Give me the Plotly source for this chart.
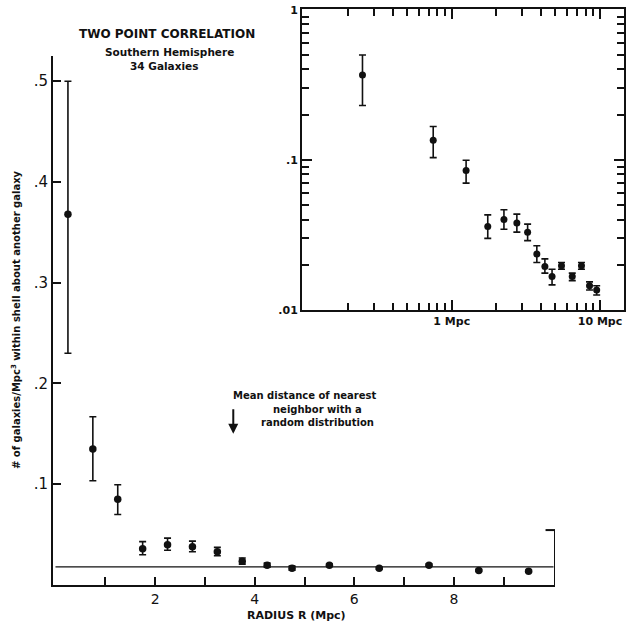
import numpy as np
import plotly.graph_objects as go

# ---- data ----
radius = [0.25, 0.75, 1.25, 1.75, 2.25, 2.75, 3.25, 3.75, 4.25, 4.75, 5.5, 6.5, 7.5, 8.5, 9.5]
density = [0.368, 0.135, 0.085, 0.036, 0.040, 0.038, 0.033, 0.0236, 0.0195, 0.0167,
           0.0197, 0.0167, 0.0197, 0.0145, 0.0136]
err_high = [0.500, 0.167, 0.0995, 0.043, 0.0465, 0.0435, 0.0373, 0.0268, 0.0219, 0.0187,
            0.0207, 0.0176, 0.0207, 0.0154, 0.0145]
err_low = [0.230, 0.1035, 0.070, 0.030, 0.0345, 0.033, 0.029, 0.0207, 0.0176, 0.0147,
           0.0187, 0.0157, 0.0187, 0.0136, 0.0126]
random_level = 0.018          # horizontal line: random distribution level
mean_nn_distance = 3.57       # arrow position (Mpc)

main_x_ticks = [2, 4, 6, 8]
main_x_minor = [1, 3, 5, 7, 9]
main_y_ticks = [0.1, 0.2, 0.3, 0.4, 0.5]
main_y_text = [".1", ".2", ".3", ".4", ".5"]

inset_y_ticks = [0.01, 0.1, 1]
inset_y_text = ["<b>.01</b>", "<b>.1</b>", "<b>1</b>"]
inset_x_ticks = [1, 10]
inset_x_text = ["<b>1 Mpc</b>", "<b>10 Mpc</b>"]

y = np.array(density)
up = np.array(err_high) - y
dn = y - np.array(err_low)

FONT = "DejaVu Sans"
BLACK = "#111111"

fig = go.Figure()

# main panel
fig.add_trace(go.Scatter(
    x=[0, 10], y=[random_level, random_level], mode="lines",
    line=dict(color=BLACK, width=1.3), xaxis="x", yaxis="y", showlegend=False))
fig.add_trace(go.Scatter(
    x=radius, y=density, mode="markers",
    marker=dict(color=BLACK, size=7.5),
    error_y=dict(type="data", symmetric=False, array=up, arrayminus=dn,
                 color=BLACK, thickness=1.6, width=3.5),
    xaxis="x", yaxis="y", showlegend=False))

# inset panel (log-log)
fig.add_trace(go.Scatter(
    x=radius, y=density, mode="markers",
    marker=dict(color=BLACK, size=7),
    error_y=dict(type="data", symmetric=False, array=up, arrayminus=dn,
                 color=BLACK, thickness=1.6, width=3.5),
    xaxis="x2", yaxis="y2", showlegend=False))

W, H = 626, 625
def px(xp):
    return xp / W
def py(yp):
    return (H - yp) / H

inset_x_minor = [v * d for d in (0.1, 1) for v in range(2, 10)]
inset_y_minor = [v * d for d in (0.01, 0.1) for v in range(2, 10)]

fig.update_layout(
    width=W, height=H, margin=dict(l=0, r=0, t=0, b=0, pad=0, autoexpand=False),
    paper_bgcolor="white", plot_bgcolor="white",
    font=dict(family=FONT, color=BLACK),
    xaxis=dict(domain=[px(53), px(555)], range=[-0.05, 10.03], automargin=False,
               showline=True, linecolor=BLACK, linewidth=2, showgrid=False, zeroline=False,
               tickmode="array", tickvals=main_x_ticks, ticktext=[str(t) for t in main_x_ticks],
               ticks="inside", ticklen=8, tickwidth=1.8, tickcolor=BLACK,
               minor=dict(tickmode="array", tickvals=main_x_minor, ticks="inside",
                          ticklen=8, tickwidth=1.8, tickcolor=BLACK),
               tickfont=dict(size=14, family=FONT), anchor="y"),
    yaxis=dict(domain=[py(585), py(56)], range=[0, 0.525], automargin=False,
               showline=True, linecolor=BLACK, linewidth=2, showgrid=False, zeroline=False,
               tickmode="array", tickvals=main_y_ticks, ticktext=main_y_text,
               ticks="inside", ticklen=8, tickwidth=1.8, tickcolor=BLACK,
               tickfont=dict(size=15, family=FONT), anchor="x"),
    xaxis2=dict(domain=[px(302), px(624)], range=[-1.01, 1.162], type="log", automargin=False,
                showline=True, mirror="allticks", linecolor=BLACK, linewidth=2,
                showgrid=False, zeroline=False,
                tickmode="array", tickvals=inset_x_ticks, ticktext=inset_x_text,
                ticks="inside", ticklen=10, tickwidth=1.8, tickcolor=BLACK,
                minor=dict(tickmode="array", tickvals=inset_x_minor, ticks="inside",
                           ticklen=7, tickwidth=1.6, tickcolor=BLACK),
                tickfont=dict(size=11, family=FONT), anchor="y2"),
    yaxis2=dict(domain=[py(310), py(9)], range=[-2, 0.005], type="log", automargin=False,
                showline=True, mirror="allticks", linecolor=BLACK, linewidth=2,
                showgrid=False, zeroline=False,
                tickmode="array", tickvals=inset_y_ticks, ticktext=inset_y_text,
                ticks="inside", ticklen=10, tickwidth=1.8, tickcolor=BLACK,
                minor=dict(tickmode="array", tickvals=inset_y_minor, ticks="inside",
                           ticklen=7, tickwidth=1.6, tickcolor=BLACK),
                tickfont=dict(size=11, family=FONT), anchor="x2"),
)

# short right-hand bracket of the main frame
fig.add_shape(type="line", xref="x", yref="y", x0=10.03, x1=10.03, y0=0, y1=0.0545,
              line=dict(color=BLACK, width=2))
fig.add_shape(type="line", xref="x", yref="y", x0=9.84, x1=10.03, y0=0.0545, y1=0.0545,
              line=dict(color=BLACK, width=2))

# arrow for mean nearest-neighbour distance
fig.add_annotation(x=mean_nn_distance, y=0.150, ax=mean_nn_distance, ay=0.176,
                   xref="x", yref="y", axref="x", ayref="y", text="",
                   showarrow=True, arrowhead=2, arrowsize=1, arrowwidth=2, arrowcolor=BLACK)

ann_font = dict(family=FONT, size=10, color=BLACK)
fig.add_annotation(x=3.53, y=0.1885, xref="x", yref="y", xanchor="left", yanchor="middle",
                   text="<b>Mean distance of nearest</b>", showarrow=False, font=ann_font)
fig.add_annotation(x=5.27, y=0.1746, xref="x", yref="y", xanchor="center", yanchor="middle",
                   text="<b>neighbor with a</b>", showarrow=False, font=ann_font)
fig.add_annotation(x=5.27, y=0.161, xref="x", yref="y", xanchor="center", yanchor="middle",
                   text="<b>random distribution</b>", showarrow=False, font=ann_font)

# titles
def paper_text(xp, yp, text, size, angle=0):
    fig.add_annotation(x=px(xp), y=py(yp), xref="paper", yref="paper",
                       xanchor="center", yanchor="middle", textangle=angle,
                       text=text, showarrow=False,
                       font=dict(family=FONT, size=size, color=BLACK))

paper_text(167, 34, "<b>TWO POINT CORRELATION</b>", 12)
paper_text(169, 51.5, "<b>Southern Hemisphere</b>", 10.5)
paper_text(164, 66, "<b>34 Galaxies</b>", 10.5)
paper_text(296, 615, "<b>RADIUS R (Mpc)</b>", 11)
paper_text(16, 320, "<b># of galaxies/Mpc<sup>3</sup> within shell about another galaxy</b>", 10, -90)

fig.write_html("out.html")
